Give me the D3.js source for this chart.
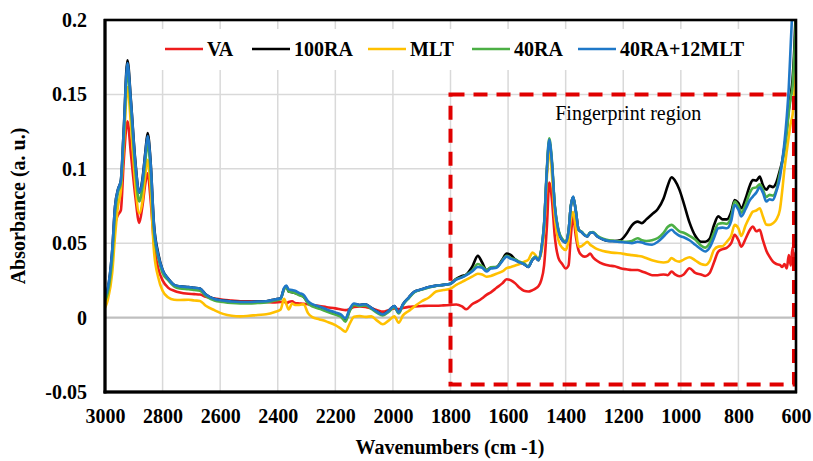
<!DOCTYPE html>
<html>
<head>
<meta charset="utf-8">
<script src="https://cdn.jsdelivr.net/npm/d3@7"></script>
<style>
  html, body { margin: 0; padding: 0; background: #fff; }
  svg { display: block; font-family: "Liberation Serif", "Times New Roman", serif; }
</style>
</head>
<body>
<svg id="chart" width="813" height="461"></svg>
<script>
// FTIR spectra, absorbance vs wavenumber (cm-1)
const wavenumbers = [3000,2990,2975,2965,2955,2945,2935,2922,2910,2895,2881,2870,2860,2852,2842,2830,2815,2800,2780,2760,2740,2710,2690,2670,2650,2620,2590,2560,2530,2500,2470,2440,2410,2390,2378,2370,2362,2350,2340,2325,2310,2295,2280,2255,2230,2200,2180,2165,2150,2135,2115,2095,2075,2055,2035,2015,1995,1980,1965,1945,1925,1900,1875,1850,1825,1800,1780,1760,1745,1725,1705,1690,1675,1660,1640,1620,1605,1590,1575,1560,1545,1530,1515,1505,1495,1485,1475,1465,1457,1448,1438,1425,1412,1400,1390,1382,1374,1365,1355,1345,1335,1325,1315,1305,1290,1270,1250,1230,1210,1190,1170,1150,1135,1120,1100,1080,1060,1045,1032,1020,1005,990,970,950,930,915,900,885,870,855,840,825,813,800,790,775,760,750,738,726,715,703,692,680,668,656,648,640,632,625,618,612,606,600];

const seriesVA = [0.012,0.018,0.040,0.062,0.069,0.072,0.105,0.132,0.110,0.082,0.0636,0.075,0.090,0.097,0.080,0.050,0.033,0.025,0.020,0.018,0.0168,0.016,0.0158,0.0155,0.014,0.0128,0.012,0.0115,0.011,0.011,0.0108,0.0105,0.0102,0.0105,0.011,0.0095,0.0105,0.011,0.0098,0.0095,0.0092,0.009,0.0085,0.0078,0.007,0.0062,0.0055,0.005,0.0058,0.0072,0.0075,0.0072,0.0062,0.005,0.004,0.005,0.0062,0.0058,0.0065,0.0072,0.0075,0.0078,0.008,0.008,0.0082,0.0085,0.0088,0.0075,0.0056,0.009,0.011,0.013,0.0153,0.017,0.020,0.023,0.0258,0.025,0.023,0.020,0.018,0.0175,0.0185,0.0195,0.021,0.025,0.035,0.062,0.0907,0.080,0.055,0.040,0.036,0.033,0.035,0.055,0.068,0.055,0.045,0.042,0.041,0.0415,0.043,0.0405,0.038,0.036,0.035,0.0345,0.0332,0.0325,0.032,0.032,0.031,0.030,0.0285,0.0285,0.029,0.0285,0.031,0.029,0.0278,0.029,0.0332,0.030,0.029,0.028,0.030,0.037,0.0444,0.046,0.047,0.050,0.0556,0.052,0.0477,0.053,0.059,0.0612,0.058,0.059,0.052,0.045,0.041,0.0376,0.036,0.0354,0.034,0.036,0.033,0.042,0.035,0.047,0.036,0.044];

const series100RA = [0.012,0.019,0.045,0.075,0.086,0.092,0.126,0.173,0.146,0.106,0.084,0.093,0.111,0.124,0.106,0.063,0.043,0.032,0.026,0.022,0.021,0.0205,0.020,0.0195,0.0155,0.0125,0.0115,0.0108,0.0105,0.0105,0.0108,0.011,0.0122,0.013,0.0195,0.021,0.0175,0.017,0.0165,0.0155,0.014,0.010,0.008,0.0065,0.0045,0.0025,0.001,-0.0015,0.005,0.009,0.0085,0.009,0.0065,0.004,0.0022,0.0045,0.0078,0.0035,0.009,0.0135,0.0175,0.019,0.0205,0.0215,0.022,0.0228,0.026,0.028,0.029,0.034,0.0415,0.037,0.032,0.0335,0.034,0.039,0.043,0.042,0.039,0.037,0.036,0.034,0.039,0.0405,0.0385,0.045,0.062,0.099,0.118,0.104,0.075,0.058,0.052,0.0505,0.058,0.075,0.081,0.072,0.059,0.0575,0.0555,0.0545,0.057,0.0572,0.0545,0.0525,0.0515,0.0515,0.052,0.056,0.062,0.0645,0.0635,0.066,0.0695,0.073,0.080,0.089,0.0943,0.092,0.086,0.077,0.064,0.055,0.051,0.051,0.053,0.062,0.068,0.066,0.066,0.071,0.079,0.077,0.0735,0.080,0.089,0.0925,0.092,0.0948,0.089,0.086,0.0885,0.0877,0.091,0.099,0.105,0.115,0.127,0.140,0.150,0.160,0.180,0.210];

const seriesMLT = [0.0065,0.012,0.030,0.055,0.075,0.085,0.115,0.155,0.130,0.090,0.070,0.078,0.096,0.106,0.088,0.045,0.027,0.018,0.0135,0.012,0.0118,0.012,0.0115,0.0112,0.008,0.005,0.0025,0.0012,0.0008,0.0012,0.0018,0.0022,0.0038,0.0055,0.0126,0.009,0.0055,0.0095,0.0085,0.0085,0.009,0.003,0.0003,-0.0012,-0.0027,-0.005,-0.0075,-0.0095,-0.004,0.0005,0.001,0.0005,0.0008,-0.002,-0.0045,-0.002,0.0008,-0.0034,0.0015,0.0045,0.0075,0.011,0.0135,0.0175,0.0185,0.0195,0.022,0.024,0.0255,0.0275,0.0295,0.029,0.0275,0.028,0.0295,0.031,0.0332,0.034,0.035,0.036,0.0375,0.0388,0.0437,0.042,0.0388,0.0432,0.058,0.095,0.113,0.097,0.068,0.052,0.047,0.0455,0.052,0.066,0.071,0.060,0.0477,0.048,0.0495,0.051,0.049,0.0477,0.046,0.0448,0.044,0.0435,0.0432,0.0425,0.042,0.0415,0.041,0.040,0.0385,0.0375,0.037,0.0375,0.040,0.0385,0.0376,0.039,0.0406,0.0385,0.036,0.0354,0.038,0.0455,0.0477,0.048,0.051,0.055,0.0623,0.060,0.0549,0.062,0.068,0.0712,0.072,0.0735,0.068,0.0625,0.0623,0.0634,0.066,0.0724,0.085,0.100,0.112,0.122,0.131,0.136,0.150,0.170];

const series40RA = [0.011,0.017,0.040,0.070,0.084,0.090,0.120,0.166,0.140,0.100,0.078,0.088,0.105,0.117,0.100,0.058,0.040,0.030,0.025,0.021,0.0195,0.019,0.0185,0.018,0.0145,0.0115,0.0105,0.0098,0.0095,0.0095,0.0098,0.0102,0.0115,0.0125,0.019,0.0205,0.0175,0.017,0.0165,0.015,0.0138,0.0095,0.0075,0.006,0.004,0.002,0.0005,-0.0027,0.0045,0.0085,0.0078,0.0082,0.0058,0.0032,0.0015,0.0038,0.007,0.0028,0.0085,0.013,0.017,0.0188,0.0203,0.0213,0.022,0.0228,0.0258,0.0272,0.0288,0.0315,0.036,0.0345,0.032,0.0338,0.034,0.0385,0.0415,0.040,0.039,0.0375,0.0365,0.0345,0.0395,0.041,0.039,0.0455,0.063,0.101,0.1205,0.106,0.076,0.059,0.053,0.051,0.058,0.075,0.081,0.072,0.059,0.0578,0.0558,0.0548,0.0572,0.0575,0.055,0.053,0.052,0.0515,0.0512,0.051,0.0515,0.0533,0.052,0.0515,0.052,0.0535,0.057,0.061,0.0623,0.0605,0.058,0.057,0.055,0.0525,0.0485,0.047,0.050,0.057,0.063,0.0635,0.063,0.068,0.078,0.075,0.0705,0.076,0.084,0.087,0.0875,0.0895,0.086,0.081,0.0825,0.082,0.086,0.097,0.104,0.113,0.125,0.138,0.148,0.155,0.175,0.200];

const series40RA12MLT = [0.014,0.020,0.045,0.075,0.086,0.092,0.125,0.171,0.145,0.105,0.084,0.092,0.110,0.122,0.105,0.062,0.042,0.032,0.026,0.022,0.021,0.0205,0.020,0.0195,0.0155,0.0125,0.0115,0.0108,0.0105,0.0105,0.0108,0.011,0.0122,0.013,0.020,0.0215,0.019,0.0185,0.018,0.0165,0.0152,0.011,0.009,0.0075,0.0055,0.0035,0.002,-0.0005,0.006,0.0095,0.0085,0.009,0.0065,0.004,0.0022,0.0045,0.0078,0.0035,0.009,0.0135,0.0175,0.019,0.0205,0.0215,0.022,0.0228,0.0255,0.027,0.0285,0.031,0.034,0.0335,0.031,0.033,0.0335,0.038,0.041,0.0395,0.0385,0.037,0.036,0.034,0.039,0.0405,0.0385,0.045,0.062,0.100,0.1195,0.105,0.075,0.058,0.052,0.0505,0.058,0.075,0.0813,0.072,0.059,0.0575,0.0555,0.0545,0.057,0.0572,0.0545,0.0525,0.0515,0.0512,0.0508,0.0505,0.050,0.051,0.0505,0.0495,0.049,0.051,0.0545,0.0575,0.059,0.057,0.055,0.054,0.052,0.049,0.046,0.0444,0.047,0.0535,0.060,0.0605,0.060,0.065,0.0757,0.0725,0.068,0.073,0.079,0.0813,0.084,0.0875,0.084,0.078,0.0795,0.079,0.085,0.094,0.105,0.118,0.135,0.155,0.185,0.210,0.240,0.270];

const seriesNames = ["VA", "100RA", "MLT", "40RA", "40RA+12MLT"];
const seriesColors = ["#ee1c1c", "#000000", "#ffc000", "#4caf45", "#1f78c8"];
const seriesValues = [seriesVA, series100RA, seriesMLT, series40RA, series40RA12MLT];

const xTicks = [3000, 2800, 2600, 2400, 2200, 2000, 1800, 1600, 1400, 1200, 1000, 800, 600];
const yTicks = [-0.05, 0, 0.05, 0.1, 0.15, 0.2];
const yTickLabels = ["-0.05", "0", "0.05", "0.1", "0.15", "0.2"];

// fingerprint window (wavenumber range and absorbance range)
const regionWn = [1800, 607];
const regionAbs = [-0.045, 0.15];
const regionLabel = "Fingerprint region";

const svg = d3.select("#chart");
const margin = { left: 105, right: 17, top: 20, bottom: 69 };
const W = 813, H = 461;
const x = d3.scaleLinear().domain([3000, 600]).range([margin.left, W - margin.right]);
const y = d3.scaleLinear().domain([-0.05, 0.2]).range([H - margin.bottom, margin.top]);

svg.append("defs").append("clipPath").attr("id", "plotclip")
  .append("rect")
  .attr("x", x(3000)).attr("y", y(0.2))
  .attr("width", x(600) - x(3000)).attr("height", y(-0.05) - y(0.2));

// grid
const grid = svg.append("g");
grid.selectAll("line.v").data(xTicks.slice(1, -1)).join("line")
  .attr("x1", d => x(d)).attr("x2", d => x(d))
  .attr("y1", y(0.2)).attr("y2", y(-0.05))
  .attr("stroke", "#d9d9d9").attr("stroke-width", 1.5);
grid.selectAll("line.h").data(yTicks.filter(d => d !== 0 && d !== 0.2 && d !== -0.05)).join("line")
  .attr("x1", x(3000)).attr("x2", x(600))
  .attr("y1", d => y(d)).attr("y2", d => y(d))
  .attr("stroke", "#d9d9d9").attr("stroke-width", 1.5);
grid.append("line")
  .attr("x1", x(3000)).attr("x2", x(600))
  .attr("y1", y(0)).attr("y2", y(0))
  .attr("stroke", "#bfbfbf").attr("stroke-width", 2.2);

// legend background hides gridlines behind entries
svg.append("rect")
  .attr("x", 152).attr("y", 29).attr("width", 632).attr("height", 41)
  .attr("fill", "#fff");

// spectra
const line = d3.line()
  .x((d, i) => x(wavenumbers[i]))
  .y(d => y(d))
  .curve(d3.curveMonotoneX);

const plot = svg.append("g").attr("clip-path", "url(#plotclip)");
seriesValues.forEach((vals, k) => {
  plot.append("path")
    .datum(vals)
    .attr("d", line)
    .attr("fill", "none")
    .attr("stroke", seriesColors[k])
    .attr("stroke-width", 2.6)
    .attr("stroke-linejoin", "round");
});

// legend
const legendX = [165, 252, 368, 472, 578];
const legend = svg.append("g");
seriesNames.forEach((name, k) => {
  legend.append("line")
    .attr("x1", legendX[k]).attr("x2", legendX[k] + 38)
    .attr("y1", 49).attr("y2", 49)
    .attr("stroke", seriesColors[k]).attr("stroke-width", 2.6);
  legend.append("text")
    .attr("x", legendX[k] + 42).attr("y", 56)
    .attr("font-size", 20).attr("font-weight", "bold")
    .attr("fill", "#000")
    .text(name);
});

// fingerprint region box
svg.append("rect")
  .attr("x", x(regionWn[0])).attr("y", y(regionAbs[1]))
  .attr("width", x(regionWn[1]) - x(regionWn[0]))
  .attr("height", y(regionAbs[0]) - y(regionAbs[1]))
  .attr("fill", "none")
  .attr("stroke", "#e00000").attr("stroke-width", 4)
  .attr("stroke-dasharray", "14,9");
svg.append("text")
  .attr("x", (x(1800) + x(600)) / 2 + 5).attr("y", 120)
  .attr("text-anchor", "middle")
  .attr("font-size", 20)
  .attr("fill", "#000")
  .text(regionLabel);

// frame
svg.append("rect")
  .attr("x", x(3000)).attr("y", y(0.2))
  .attr("width", x(600) - x(3000)).attr("height", y(-0.05) - y(0.2))
  .attr("fill", "none").attr("stroke", "#000").attr("stroke-width", 2.6);
svg.append("line")
  .attr("x1", x(3000)).attr("x2", x(3000)).attr("y1", y(0.2) - 1).attr("y2", y(-0.05) + 1.5)
  .attr("stroke", "#000").attr("stroke-width", 3);
svg.append("line")
  .attr("x1", x(3000) - 1.5).attr("x2", x(600) + 1).attr("y1", y(-0.05)).attr("y2", y(-0.05))
  .attr("stroke", "#000").attr("stroke-width", 3);

// axes
const xAxis = svg.append("g")
  .attr("transform", `translate(0,${y(-0.05)})`)
  .call(d3.axisBottom(x).tickValues(xTicks).tickSize(0).tickPadding(17).tickFormat(d3.format("d")));
const yAxis = svg.append("g")
  .attr("transform", `translate(${x(3000)},0)`)
  .call(d3.axisLeft(y).tickValues(yTicks).tickSize(0).tickPadding(18)
    .tickFormat((d, i) => yTickLabels[i]));
[xAxis, yAxis].forEach(g => {
  g.select(".domain").remove();
  g.selectAll("text")
    .attr("font-family", "Liberation Serif, Times New Roman, serif")
    .attr("font-size", 20).attr("font-weight", "bold").attr("fill", "#000");
});

// axis titles
svg.append("text")
  .attr("x", 450).attr("y", 454)
  .attr("text-anchor", "middle")
  .attr("font-size", 20).attr("font-weight", "bold")
  .text("Wavenumbers (cm -1)");
svg.append("text")
  .attr("transform", `translate(25,${(y(0.2) + y(-0.05)) / 2}) rotate(-90)`)
  .attr("text-anchor", "middle")
  .attr("font-size", 20).attr("font-weight", "bold")
  .text("Absorbance (a. u.)");
</script>
</body>
</html>
